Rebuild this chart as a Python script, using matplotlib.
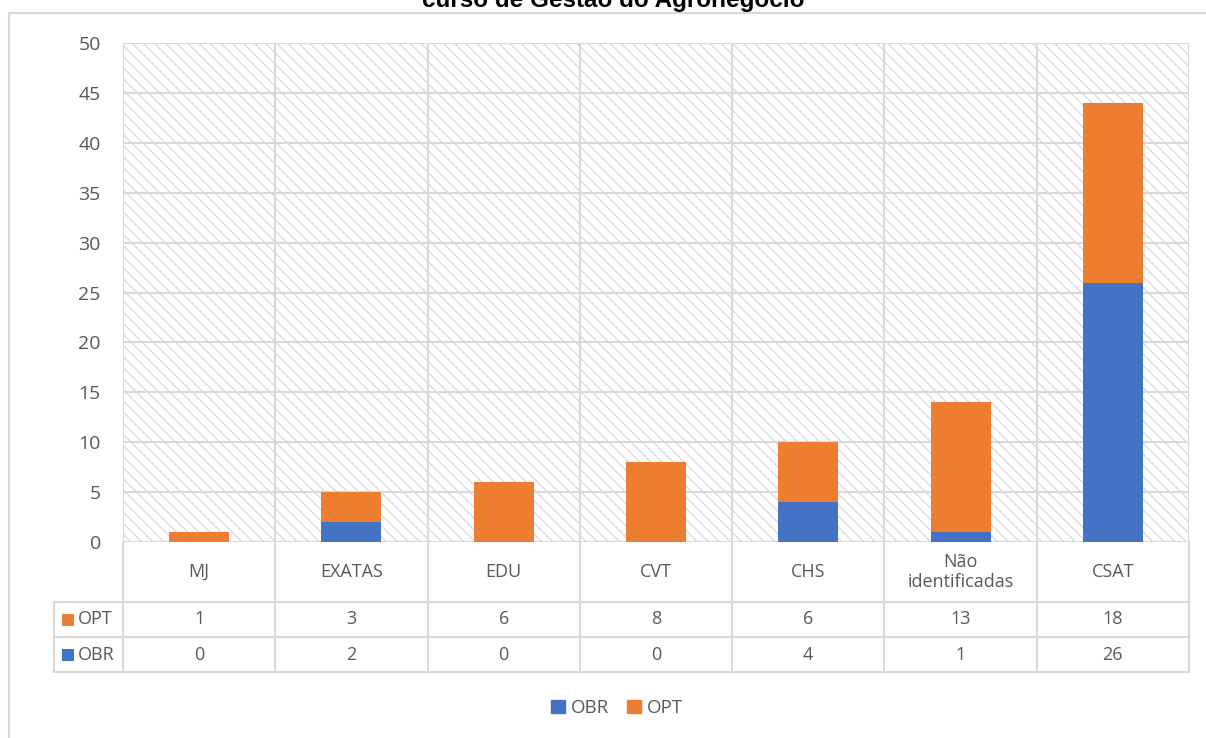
import matplotlib
matplotlib.use("Agg")
import matplotlib.pyplot as plt
from matplotlib.patches import Rectangle
import numpy as np

categories = ["MJ", "EXATAS", "EDU", "CVT", "CHS", "Não\nidentificadas", "CSAT"]
obr = [0, 2, 0, 0, 4, 1, 26]
opt = [1, 3, 6, 8, 6, 13, 18]
yticks = [0, 5, 10, 15, 20, 25, 30, 35, 40, 45, 50]
title = "curso de Gestão do Agronegócio"

BLUE = "#4472C4"
ORANGE = "#ED7D31"
GRID = "#D9D9D9"
TXT = "#595959"
FONT = ["Open Sans", "DejaVu Sans"]

W, H = 1206, 738
fig = plt.figure(figsize=(W / 100, H / 100), dpi=100)
plt.rcParams["hatch.linewidth"] = 0.9
plt.rcParams["hatch.color"] = "#D9D9D9"

def fx(px):
    return px / W

def fy(py):
    return 1 - py / H

# outer frame
fig.patches.append(Rectangle((fx(9), fy(760)), fx(1220) - fx(9), fy(13) - fy(760),
                             transform=fig.transFigure, fill=False,
                             edgecolor=GRID, linewidth=1.5, zorder=0))

fig.text(fx(613), fy(7), title, ha="center", va="baseline", fontsize=17.5,
         fontweight="bold", family=["Liberation Sans", "DejaVu Sans"], color="black")

L, R, T, B = 123, 1189, 43, 542
ax = fig.add_axes([fx(L), fy(B), fx(R) - fx(L), fy(T) - fy(B)])
n = len(categories)
x = np.arange(n)
ax.set_xlim(-0.5, n - 0.5)
ax.set_ylim(0, 50)

ax.add_patch(Rectangle((0, 0), 1, 1, transform=ax.transAxes, facecolor="white",
                       edgecolor="#D9D9D9", hatch="\\\\\\", linewidth=0, zorder=0))
for yv in yticks:
    ax.axhline(yv, color=GRID, linewidth=1.5, zorder=1)
for xv in np.arange(-0.5, n, 1.0):
    ax.axvline(xv, color=GRID, linewidth=1.5, zorder=1)

bw = 60 / ((R - L) / n)
ax.bar(x, obr, width=bw, color=BLUE, zorder=3, label="OBR")
ax.bar(x, opt, width=bw, bottom=obr, color=ORANGE, zorder=3, label="OPT")

for s in ax.spines.values():
    s.set_visible(False)
ax.set_xticks([])
ax.set_yticks(yticks)
ax.set_yticklabels([str(v) for v in yticks], fontsize=14, color=TXT, family=FONT)
ax.tick_params(axis="y", length=0, pad=16)

# data table
TL = 54
TB = 672
tax = fig.add_axes([fx(TL), fy(TB), fx(R) - fx(TL), fy(B) - fy(TB)])
hdr = (L - TL) / ((R - L) / n)
tax.set_xlim(-0.5 - hdr, n - 0.5)
tax.set_ylim(TB, B)
tax.axis("off")
lw = 1.5
for xv in np.arange(-0.5, n, 1.0):
    tax.plot([xv, xv], [B, TB], color=GRID, lw=lw, clip_on=False)
tax.plot([-0.5 - hdr, -0.5 - hdr], [602, TB], color=GRID, lw=lw, clip_on=False)
for yv in [602, 637, 672]:
    tax.plot([-0.5 - hdr, n - 0.5], [yv, yv], color=GRID, lw=lw, clip_on=False)

for i, c in enumerate(categories):
    tax.text(i, (B + 602) / 2, c, ha="center", va="center", fontsize=13,
             color=TXT, family=FONT, linespacing=1.2)
    tax.text(i, (602 + 637) / 2, str(opt[i]), ha="center", va="center",
             fontsize=13, color=TXT, family=FONT)
    tax.text(i, (637 + 672) / 2, str(obr[i]), ha="center", va="center",
             fontsize=13, color=TXT, family=FONT)

for (yc, lab, col) in [((602 + 637) / 2, "OPT", ORANGE), ((637 + 672) / 2, "OBR", BLUE)]:
    fig.patches.append(Rectangle((fx(62), fy(yc + 6)), fx(12), fy(0) - fy(12),
                                 transform=fig.transFigure, facecolor=col,
                                 edgecolor="none"))
    fig.text(fx(78), fy(yc), lab, ha="left", va="center", fontsize=13,
             color=TXT, family=FONT)

# legend
leg = fig.legend(handles=[Rectangle((0, 0), 1, 1, color=BLUE),
                          Rectangle((0, 0), 1, 1, color=ORANGE)],
                 labels=["OBR", "OPT"], loc="center", bbox_to_anchor=(fx(617), fy(708)),
                 ncol=2, frameon=False, handlelength=0.75, handleheight=0.75,
                 handletextpad=0.3, columnspacing=1.0,
                 prop={"family": FONT, "size": 13.5})
for t in leg.get_texts():
    t.set_color(TXT)

fig.savefig("out.png", dpi=100)
